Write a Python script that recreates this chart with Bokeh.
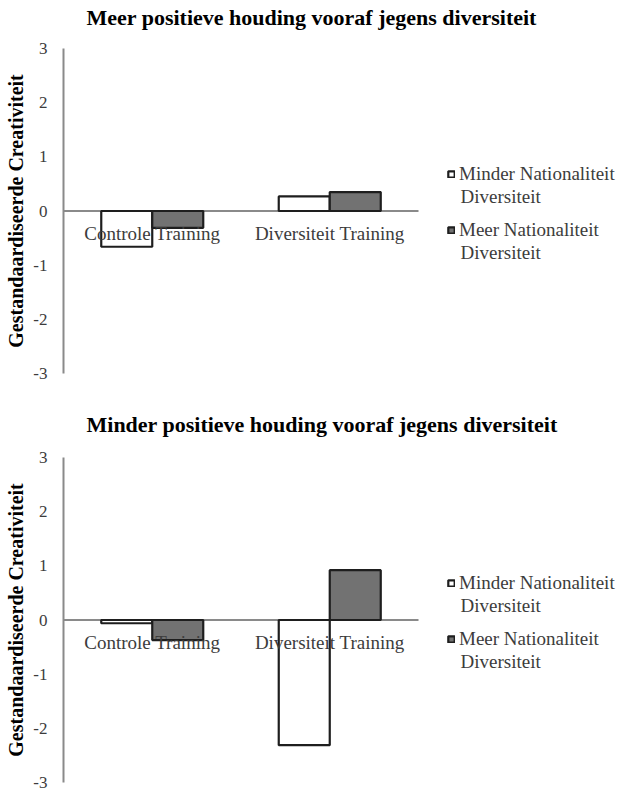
from bokeh.plotting import figure
from bokeh.models import Range1d, Legend, LegendItem, ColumnDataSource, Label, Title
from bokeh.transform import dodge
from bokeh.layouts import column
from bokeh.core.properties import value
from bokeh.embed import file_html
from bokeh.resources import INLINE

categories = ["Controle Training", "Diversiteit Training"]
series_line1 = ["Minder Nationaliteit", "Meer Nationaliteit"]
series_line2 = ["Diversiteit", "Diversiteit"]
titles = ["Meer positieve houding vooraf jegens diversiteit",
          "Minder positieve houding vooraf jegens diversiteit"]
top_minder = [-0.66, 0.27]
top_meer = [-0.31, 0.35]
bottom_minder = [-0.06, -2.31]
bottom_meer = [-0.37, 0.92]
y_ticks = [-3, -2, -1, 0, 1, 2, 3]
y_label = "Gestandaardiseerde Creativiteit"

FONT = "Liberation Serif"
AXIS_GRAY = "#8a8a8a"
TEXT_GRAY = "#3c3c3c"
BAR_LINE = "#1e1e1e"
GRAY_FILL = "#727272"

FIG_W = 620
LEFT = 63            # frame left edge in px
FRAME_H = 325
UNIT_PX = 177.5      # px per category slot
BAR_W = 51 / UNIT_PX
PX_PER_Y = FRAME_H / 6.0
X_END = (FIG_W - LEFT) / UNIT_PX
ITEM_H = 22


def make(title, minder, meer, height, border_top, border_bottom, title_gap):
    xs = [i + 0.5 for i in range(len(categories))]
    src = ColumnDataSource(dict(x=xs, cat=categories, minder=minder, meer=meer,
                                zero=[0] * len(categories)))
    p = figure(x_range=Range1d(0, X_END), y_range=Range1d(-3, 3),
               width=FIG_W, height=height, output_backend="svg", toolbar_location=None,
               min_border_left=LEFT, min_border_right=0, min_border_top=border_top,
               min_border_bottom=border_bottom)
    # empty spacer between the frame and the title
    p.add_layout(Title(text=" ", text_font_size="1px", standoff=title_gap), "above")
    p.title.text = title
    p.title.align = "left"
    p.title.offset = 23
    p.title.standoff = 2
    p.title.text_font = FONT
    p.title.text_font_size = "22px"
    p.title.text_font_style = "bold"
    p.title.text_color = "black"

    p.outline_line_color = None
    p.xgrid.visible = False
    p.ygrid.visible = False
    p.xaxis.visible = False

    p.yaxis.ticker = y_ticks
    p.yaxis.major_label_overrides = {t: str(t) for t in y_ticks}
    p.yaxis.major_tick_line_color = None
    p.yaxis.minor_tick_line_color = None
    p.yaxis.major_tick_out = 0
    p.yaxis.major_tick_in = 0
    p.yaxis.minor_tick_out = 0
    p.yaxis.minor_tick_in = 0
    p.yaxis.axis_line_color = AXIS_GRAY
    p.yaxis.axis_line_width = 2
    p.yaxis.major_label_text_font = FONT
    p.yaxis.major_label_text_font_size = "17px"
    p.yaxis.major_label_text_color = TEXT_GRAY
    p.yaxis.major_label_standoff = 16
    p.yaxis.axis_label = y_label
    p.yaxis.axis_label_text_font = FONT
    p.yaxis.axis_label_text_font_style = "bold"
    p.yaxis.axis_label_text_font_size = "20px"
    p.yaxis.axis_label_text_color = "black"
    p.yaxis.axis_label_standoff = 3

    # category baseline at y = 0, spanning the category slots
    p.segment(x0=[0], y0=[0], x1=[len(categories)], y1=[0],
              line_color=AXIS_GRAY, line_width=2)

    r1 = p.vbar(x=dodge("x", -BAR_W / 2), top="minder", width=BAR_W, source=src,
                fill_color="white", line_color=BAR_LINE, line_width=2.2)
    r2 = p.vbar(x=dodge("x", BAR_W / 2), top="meer", width=BAR_W, source=src,
                fill_color=GRAY_FILL, line_color=BAR_LINE, line_width=2.2)

    p.text(x="x", y="zero", text="cat", source=src, text_align="center", text_baseline="top",
           y_offset=12, text_font=value(FONT), text_font_size="19px", text_color=TEXT_GRAY)

    # legend: glyph + first line, positions relative to the zero line
    line1_offsets = [-37, 19]   # px below zero line (negative = above)
    zero_from_bottom = FRAME_H / 2
    for i, (r, lab, off) in enumerate(zip([r1, r2], series_line1, line1_offsets)):
        center_from_bottom = zero_from_bottom - off
        leg = Legend(items=[LegendItem(label=lab, renderers=[r])],
                     location=(384, center_from_bottom - ITEM_H / 2),
                     glyph_width=8, glyph_height=8, label_standoff=4, label_height=ITEM_H,
                     label_text_font=FONT, label_text_font_size="19px",
                     label_text_color=TEXT_GRAY, padding=0, margin=0, spacing=0,
                     border_line_color=None, background_fill_alpha=0)
        p.add_layout(leg, "center")
        # wrapped second line of the legend label
        p.add_layout(Label(x=(460 - LEFT) / UNIT_PX, y=-(off + 22) / PX_PER_Y,
                           text=series_line2[i], text_baseline="middle",
                           text_font=FONT, text_font_size="19px", text_color=TEXT_GRAY))
    return p


p1 = make(titles[0], top_minder, top_meer, 407, 48, 34, 15)
p2 = make(titles[1], bottom_minder, bottom_meer, 384, 50, 9, 17)
layout = column(p1, p2)

open("out.html", "w").write(file_html(layout, INLINE))
